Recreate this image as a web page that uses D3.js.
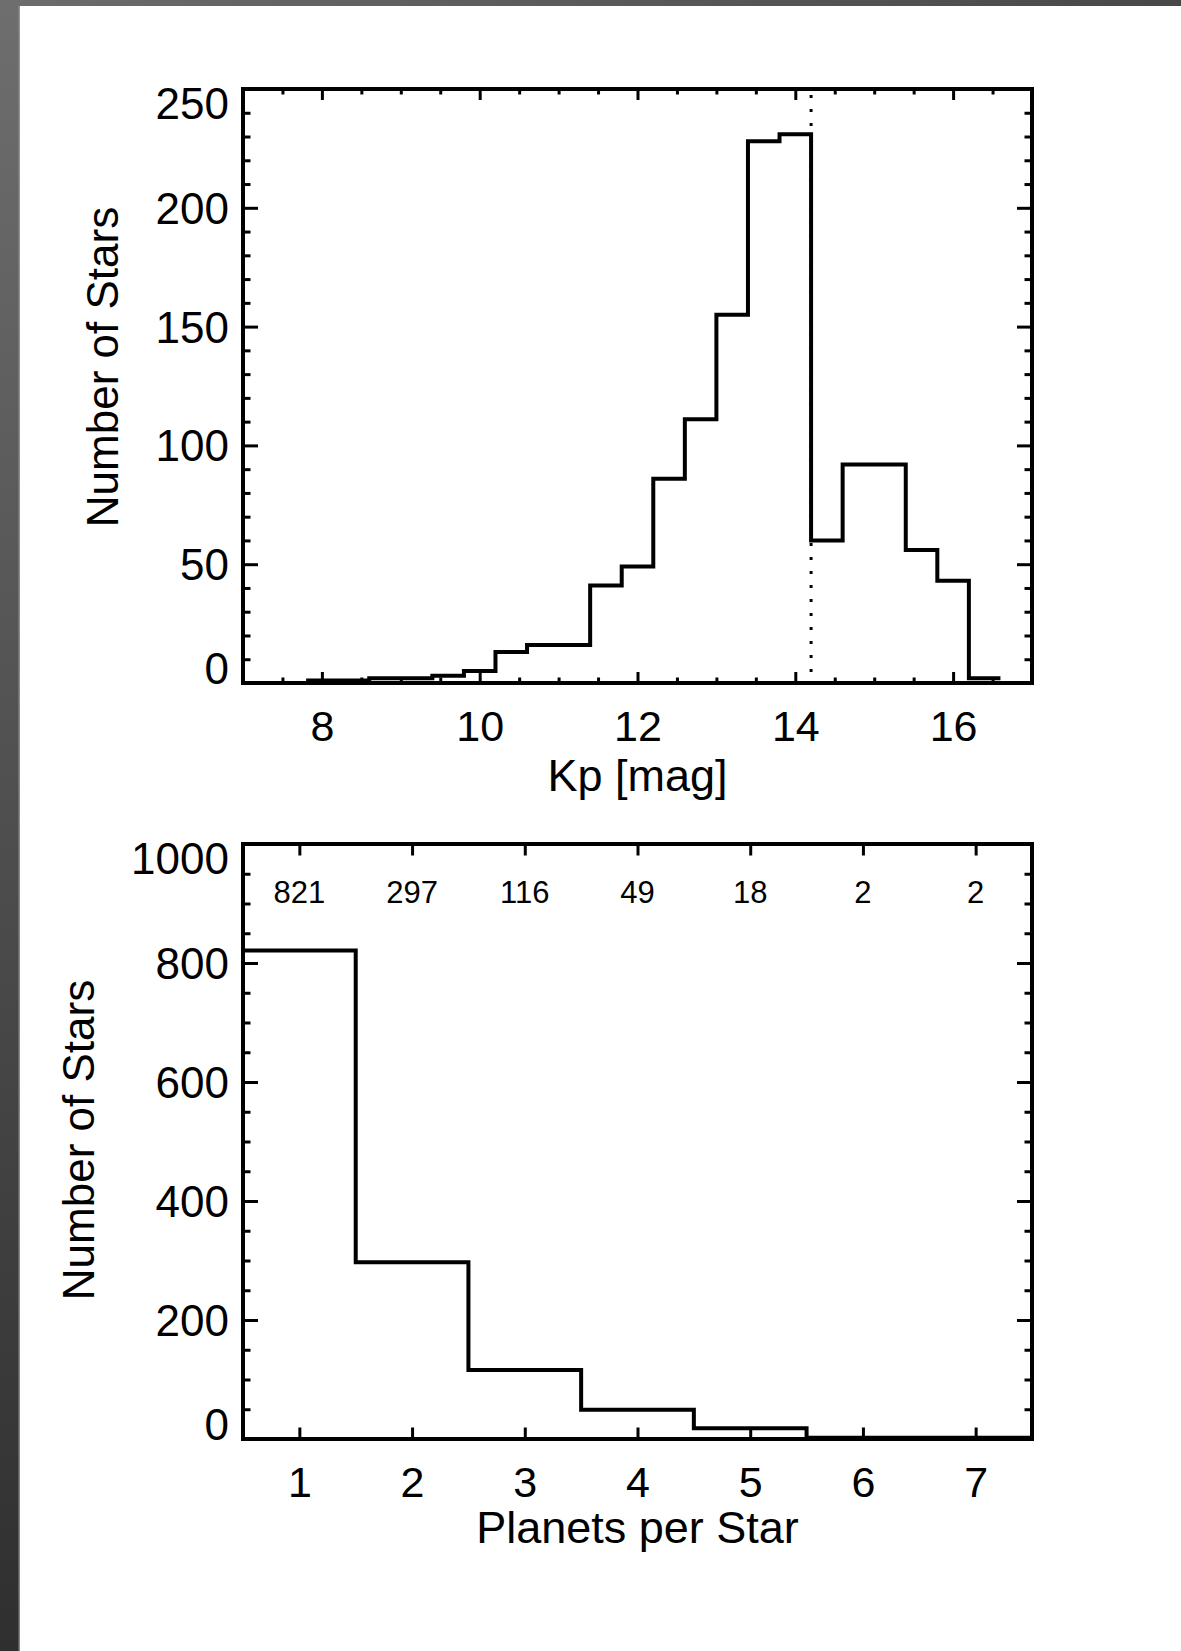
<!DOCTYPE html>
<html>
<head>
<meta charset="utf-8">
<script src="https://cdn.jsdelivr.net/npm/d3@7"></script>
<style>
  html, body { margin: 0; padding: 0; background: #ffffff; }
  svg { display: block; }
  text { font-family: "Liberation Sans", Arial, Helvetica, sans-serif; fill: #000; }
</style>
</head>
<body>
<svg id="chart" width="1181" height="1651"></svg>
<script>
// Kepler magnitude histogram: bin edges (0.4 mag bins) and star counts per bin
const kpEdges = [7.8, 8.2, 8.6, 9.0, 9.4, 9.8, 10.2, 10.6, 11.0, 11.4, 11.8, 12.2,
                 12.6, 13.0, 13.4, 13.8, 14.2, 14.6, 15.0, 15.4, 15.8, 16.2, 16.6];
const kpCounts = [1, 1, 2, 2, 3, 5, 13, 16, 16, 41, 49, 86,
                  111, 155, 228, 231, 60, 92, 92, 56, 43, 2];
const kpCut = 14.2;                     // dotted reference magnitude
const kpTicks = [8, 10, 12, 14, 16];
const kpCountTicks = [0, 50, 100, 150, 200, 250];

// Multiplicity histogram: planets per star and number of stars
const planetsPerStar = [1, 2, 3, 4, 5, 6, 7];
const starsWithN = [821, 297, 116, 49, 18, 2, 2];
const multCountTicks = [0, 200, 400, 600, 800, 1000];

const svg = d3.select("#chart");
const W = 1181, H = 1651;

// ---- page frame (grey border on the left and top) ----
const defs = svg.append("defs");
const gLeft = defs.append("linearGradient").attr("id", "gLeft")
  .attr("x1", 0).attr("y1", 0).attr("x2", 0).attr("y2", 1);
gLeft.append("stop").attr("offset", "0%").attr("stop-color", "#6e6e6e");
gLeft.append("stop").attr("offset", "100%").attr("stop-color", "#2f2f2f");
const gTop = defs.append("linearGradient").attr("id", "gTop")
  .attr("x1", 0).attr("y1", 0).attr("x2", 1).attr("y2", 0);
gTop.append("stop").attr("offset", "0%").attr("stop-color", "#6c6c6c");
gTop.append("stop").attr("offset", "100%").attr("stop-color", "#484848");

svg.append("rect").attr("x", 0).attr("y", 0).attr("width", W).attr("height", 6).attr("fill", "url(#gTop)");
svg.append("rect").attr("x", 0).attr("y", 0).attr("width", 20).attr("height", H).attr("fill", "url(#gLeft)");
svg.append("rect").attr("x", 18.5).attr("y", 6).attr("width", 1.5).attr("height", H - 6)
  .attr("fill", "#9a9a9a").attr("opacity", 0.8);

// ---- shared panel drawing ----
function drawPanel(opt) {
  const g = svg.append("g");
  const { x, y } = opt;
  const [x0, x1] = x.range();
  const [yb, yt] = y.range();
  const hTick = opt.hTick, vTick = opt.vTick;

  // bottom axis with labels (ticks point inward)
  const bottomAxis = g.append("g").attr("transform", `translate(0,${yb})`)
    .call(d3.axisBottom(x).tickValues(opt.xTicks).tickSize(-vTick)
      .tickPadding(27).tickFormat(d3.format("d")));
  bottomAxis.selectAll("text").attr("font-size", opt.xFont);
  // top mirror
  g.append("g").attr("transform", `translate(0,${yt})`)
    .call(d3.axisTop(x).tickValues(opt.xTicks).tickSize(-vTick).tickFormat(""));
  if (opt.xMinor) {
    g.append("g").attr("transform", `translate(0,${yb})`)
      .call(d3.axisBottom(x).tickValues(opt.xMinor).tickSize(-vTick / 2).tickFormat(""));
    g.append("g").attr("transform", `translate(0,${yt})`)
      .call(d3.axisTop(x).tickValues(opt.xMinor).tickSize(-vTick / 2).tickFormat(""));
  }

  // left axis with labels
  const yMax = d3.max(opt.yTicks), yMin = d3.min(opt.yTicks);
  const leftAxis = g.append("g").attr("transform", `translate(${x0},0)`)
    .call(d3.axisLeft(y).tickValues(opt.yTicks).tickSize(-hTick)
      .tickPadding(14).tickFormat(d3.format("d")));
  leftAxis.selectAll("text").attr("font-size", opt.yFont)
    .attr("dy", d => d === yMax ? "0.66em" : (d === yMin ? "0.02em" : "0.35em"));
  g.append("g").attr("transform", `translate(${x0},0)`)
    .call(d3.axisLeft(y).tickValues(opt.yMinor).tickSize(-hTick / 2).tickFormat(""));
  // right mirror
  g.append("g").attr("transform", `translate(${x1},0)`)
    .call(d3.axisRight(y).tickValues(opt.yTicks).tickSize(-hTick).tickFormat(""));
  g.append("g").attr("transform", `translate(${x1},0)`)
    .call(d3.axisRight(y).tickValues(opt.yMinor).tickSize(-hTick / 2).tickFormat(""));

  g.selectAll(".domain").remove();
  g.selectAll(".tick line").attr("stroke", "#000").attr("stroke-width", 3);

  // histogram outline
  g.append("path")
    .datum(opt.steps)
    .attr("fill", "none").attr("stroke", "#000").attr("stroke-width", 4)
    .attr("stroke-linejoin", "miter")
    .attr("d", d3.line().x(d => x(d[0])).y(d => y(d[1])).curve(d3.curveStepAfter));

  // plot frame
  g.append("rect").attr("x", x0).attr("y", yt).attr("width", x1 - x0).attr("height", yb - yt)
    .attr("fill", "none").attr("stroke", "#000").attr("stroke-width", 4);

  // axis titles
  g.append("text").attr("x", (x0 + x1) / 2).attr("y", opt.xTitleY)
    .attr("text-anchor", "middle").attr("font-size", 45).text(opt.xTitle);
  g.append("text")
    .attr("transform", `translate(${opt.yTitleX},${opt.yTitleCy}) rotate(-90)`)
    .attr("text-anchor", "middle").attr("font-size", 44).text(opt.yTitle);
  return g;
}

// ---- upper panel: Kp magnitudes ----
const xKp = d3.scaleLinear().domain([7, 17]).range([243, 1032]);
const yKp = d3.scaleLinear().domain([0, 250]).range([683, 89]);
const kpSteps = kpCounts.map((c, i) => [kpEdges[i], c]);
kpSteps.push([kpEdges[kpEdges.length - 1], kpCounts[kpCounts.length - 1]]);

const kpPanel = drawPanel({
  x: xKp, y: yKp,
  xTicks: kpTicks,
  xMinor: d3.range(7.5, 17, 0.5).filter(v => !kpTicks.includes(v)),
  yTicks: kpCountTicks,
  yMinor: d3.range(10, 250, 10).filter(v => v % 50 !== 0),
  hTick: 15, vTick: 11,
  xFont: 43, yFont: 44,
  steps: kpSteps,
  xTitle: "Kp [mag]", xTitleY: 791,
  yTitle: "Number of Stars", yTitleX: 118, yTitleCy: 367
});

// dotted line marking the magnitude cut
kpPanel.append("line")
  .attr("x1", xKp(kpCut)).attr("x2", xKp(kpCut))
  .attr("y1", yKp(250) + 6).attr("y2", yKp(0) - 3)
  .attr("stroke", "#000").attr("stroke-width", 3).attr("stroke-dasharray", "3,11");

// ---- lower panel: planets per star ----
const xN = d3.scaleLinear().domain([0.5, 7.5]).range([243, 1032]);
const yN = d3.scaleLinear().domain([0, 1000]).range([1439, 844]);
const nSteps = starsWithN.map((c, i) => [planetsPerStar[i] - 0.5, c]);
nSteps.push([planetsPerStar[planetsPerStar.length - 1] + 0.5, starsWithN[starsWithN.length - 1]]);

const multPanel = drawPanel({
  x: xN, y: yN,
  xTicks: planetsPerStar,
  xMinor: null,
  yTicks: multCountTicks,
  yMinor: d3.range(50, 1000, 50).filter(v => v % 200 !== 0),
  hTick: 15, vTick: 11.5,
  xFont: 43, yFont: 44,
  steps: nSteps,
  xTitle: "Planets per Star", xTitleY: 1543,
  yTitle: "Number of Stars", yTitleX: 94, yTitleCy: 1140
});

// count labels above each bin
multPanel.selectAll("text.count")
  .data(planetsPerStar.map((p, i) => ({ p, n: starsWithN[i] })))
  .join("text").attr("class", "count")
  .attr("x", d => xN(d.p)).attr("y", 903)
  .attr("text-anchor", "middle").attr("font-size", 31)
  .text(d => d.n);
</script>
</body>
</html>
